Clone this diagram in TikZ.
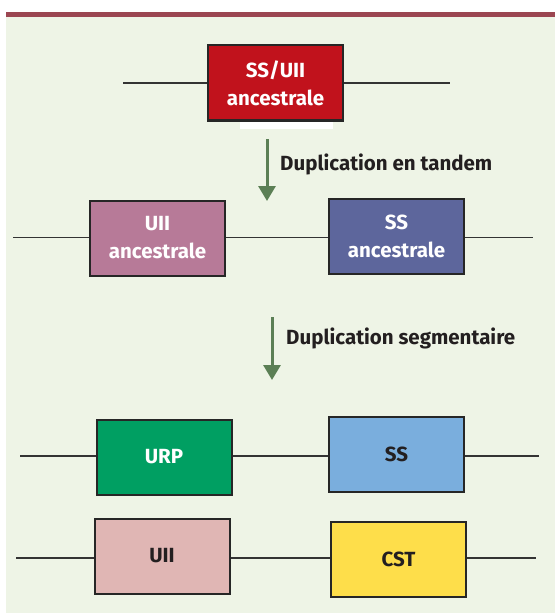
\documentclass[tikz,border=0pt]{standalone}
\usepackage{fontspec}
\setmainfont{Fira Sans}
\usetikzlibrary{arrows.meta}

\definecolor{barre}{HTML}{9B4651}
\definecolor{fond}{HTML}{EEF4E6}
\definecolor{cadre}{HTML}{262626}
\definecolor{trait}{HTML}{333333}
\definecolor{vert}{HTML}{5B7F55}
\definecolor{texte}{HTML}{231F20}
\definecolor{rouge}{HTML}{C1121C}
\definecolor{mauve}{HTML}{B77A98}
\definecolor{marine}{HTML}{5D669C}
\definecolor{urp}{HTML}{009F62}
\definecolor{bleu}{HTML}{7AAEDD}
\definecolor{rose}{HTML}{E0B6B4}
\definecolor{jaune}{HTML}{FEDE4A}

\begin{document}
\begin{tikzpicture}[x=1pt, y=-1pt,
  gene/.style={draw=cadre, line width=2pt, minimum width=135pt, minimum height=75pt,
    inner sep=0pt, align=center, font=\bfseries\fontsize{20.5}{28}\selectfont},
  brin/.style={draw=trait, line width=1.5pt},
  fleche/.style={draw=vert, line width=3pt, -{Triangle[length=15pt,width=17pt]}},
  etiquette/.style={anchor=base west, inner sep=0pt, text=texte, font=\bfseries\fontsize{20.5}{24}\selectfont}]

  % Fond et bandeau
  \useasboundingbox (0,0) rectangle (555,615);
  \fill[fond] (6,17) rectangle (555,613);
  \fill[barre] (6,12) rectangle (555,17);

  % Gene ancestral
  \coordinate (a0) at (123,83);
  \coordinate (a1) at (450,83);
  \draw[brin] (a0) -- (a1);
  \node[gene, fill=rouge, text=white] (ancetre) at (275.5,83) {SS/UII\\ancestrale};
  \fill[white] (240,122) rectangle (333,129);

  % Duplication en tandem
  \coordinate (f1) at (267,139);
  \coordinate (g1) at (267,201);
  \draw[fleche] (f1) -- (g1);
  \node[etiquette] (tandem) at (280,170) {Duplication en tandem};

  % Genes ancestraux
  \coordinate (b0) at (13,237.5);
  \coordinate (b1) at (533,237.5);
  \draw[brin] (b0) -- (b1);
  \node[gene, fill=mauve, text=white] (uiianc) at (157.5,238) {UII\\ancestrale};
  \node[gene, fill=marine, text=white] (ssanc) at (396.5,236.5) {SS\\ancestrale};

  % Duplication segmentaire
  \coordinate (f2) at (272,317);
  \coordinate (g2) at (272,380);
  \draw[fleche] (f2) -- (g2);
  \node[etiquette] (segment) at (286,344) {Duplication segmentaire};

  % Genes actuels
  \coordinate (c0) at (20,456);
  \coordinate (c1) at (539,456);
  \draw[brin] (c0) -- (c1);
  \coordinate (d0) at (16,558);
  \coordinate (d1) at (536,558);
  \draw[brin] (d0) -- (d1);
  \foreach \nom/\x/\y/\coul/\txt/\lettre in {urp/164/457/urp/URP/white, ss/396.5/454/bleu/SS/texte,
      uii/162/556/rose/UII/texte, cst/398.5/559/jaune/CST/texte} {
    \node[gene, fill=\coul, text=\lettre] (\nom) at (\x,\y) {\txt};
  }
\end{tikzpicture}
\end{document}
